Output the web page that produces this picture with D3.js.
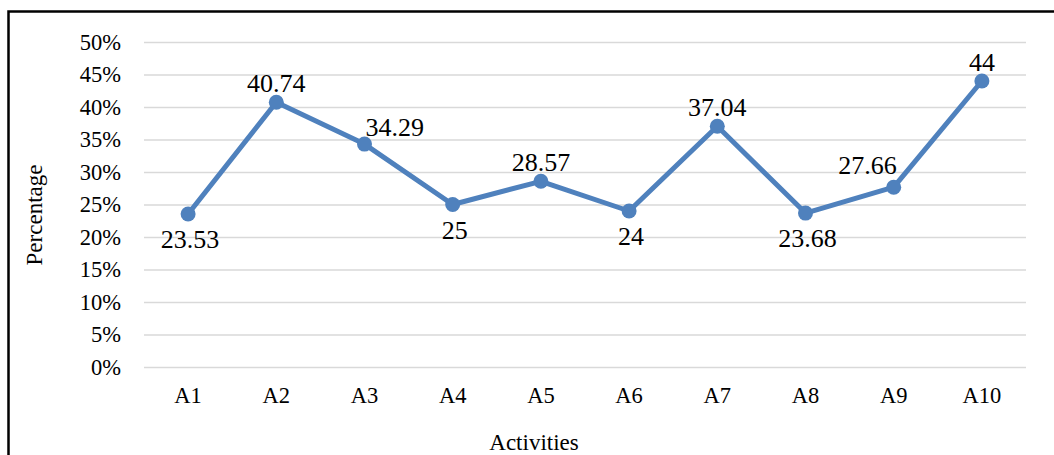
<!DOCTYPE html>
<html>
<head>
<meta charset="utf-8">
<script src="https://cdn.jsdelivr.net/npm/d3@7"></script>
<style>
  html, body { margin: 0; padding: 0; background: #fff; }
  svg { display: block; }
  svg text { font-family: "Liberation Serif", "Times New Roman", serif; }
</style>
</head>
<body>
<svg id="chart" width="1054" height="455" font-family="Liberation Serif"></svg>
<script>
// Share of each activity (percent)
const categories = ["A1", "A2", "A3", "A4", "A5", "A6", "A7", "A8", "A9", "A10"];
const values = [23.53, 40.74, 34.29, 25, 28.57, 24, 37.04, 23.68, 27.66, 44];
const yTicks = [0, 5, 10, 15, 20, 25, 30, 35, 40, 45, 50];

// where each value label sits relative to its point
const labelPlacement = ["below", "above", "right", "below", "above", "below", "above", "below", "left", "above"];

const SERIF = "Liberation Serif";
const plot = { left: 144, right: 1026, top: 42, bottom: 367 };
const color = "#4f81bd";

const svg = d3.select("#chart");

// outer frame
svg.append("rect")
  .attr("x", 8.5).attr("y", 11.5)
  .attr("width", 1100).attr("height", 600)
  .attr("fill", "none").attr("stroke", "#000").attr("stroke-width", 2.5);

const x = d3.scaleBand().domain(categories).range([plot.left, plot.right]);
const y = d3.scaleLinear().domain([0, 50]).range([plot.bottom, plot.top]);

// horizontal gridlines + y tick labels
const yAxis = d3.axisLeft(y)
  .tickValues(yTicks)
  .tickSize(-(plot.right - plot.left))
  .tickPadding(23)
  .tickFormat(d => d + "%");

const gy = svg.append("g")
  .attr("transform", `translate(${plot.left},0)`)
  .call(yAxis)
  .attr("font-family", SERIF);
gy.select(".domain").remove();
gy.selectAll(".tick line").attr("stroke", "#d9d9d9").attr("stroke-width", 1.5);
gy.selectAll(".tick text")
  .attr("dy", "0.33em")
  .attr("font-size", 22.5)
  .attr("fill", "#000");

// category labels
const xAxis = d3.axisBottom(x).tickSize(0).tickPadding(0);
const gx = svg.append("g")
  .attr("transform", `translate(0,${plot.bottom})`)
  .call(xAxis)
  .attr("font-family", SERIF);
gx.select(".domain").remove();
gx.selectAll(".tick text")
  .attr("y", 36)
  .attr("dy", 0)
  .attr("font-size", 22.5)
  .attr("fill", "#000");

const cx = d => x(d) + x.bandwidth() / 2;

// series line
const line = d3.line()
  .x((d, i) => cx(categories[i]))
  .y(d => y(d));

svg.append("path")
  .datum(values)
  .attr("d", line)
  .attr("fill", "none")
  .attr("stroke", color)
  .attr("stroke-width", 5)
  .attr("stroke-linejoin", "round")
  .attr("stroke-linecap", "round");

// markers
svg.append("g").selectAll("circle")
  .data(values)
  .join("circle")
  .attr("cx", (d, i) => cx(categories[i]))
  .attr("cy", d => y(d))
  .attr("r", 7.5)
  .attr("fill", color);

// value labels
const placements = {
  above: { dx: 0, dy: -10, anchor: "middle" },
  below: { dx: 2, dy: 34, anchor: "middle" },
  right: { dx: 1, dy: -8, anchor: "start" },
  left:  { dx: 3, dy: -13, anchor: "end" }
};

const labels = svg.append("g")
  .attr("font-family", SERIF)
  .attr("font-size", 26);

labels.selectAll("text")
  .data(values)
  .join("text")
  .attr("x", (d, i) => cx(categories[i]) + placements[labelPlacement[i]].dx)
  .attr("y", (d, i) => y(d) + placements[labelPlacement[i]].dy)
  .attr("text-anchor", (d, i) => placements[labelPlacement[i]].anchor)
  .attr("fill", "#000")
  .text(d => String(d));

// axis titles
svg.append("text")
  .attr("x", 534).attr("y", 450)
  .attr("text-anchor", "middle")
  .attr("font-size", 23)
  .attr("fill", "#000")
  .text("Activities");

svg.append("text")
  .attr("transform", "translate(42,215) rotate(-90)")
  .attr("text-anchor", "middle")
  .attr("font-size", 23)
  .attr("fill", "#000")
  .text("Percentage");
</script>
</body>
</html>
